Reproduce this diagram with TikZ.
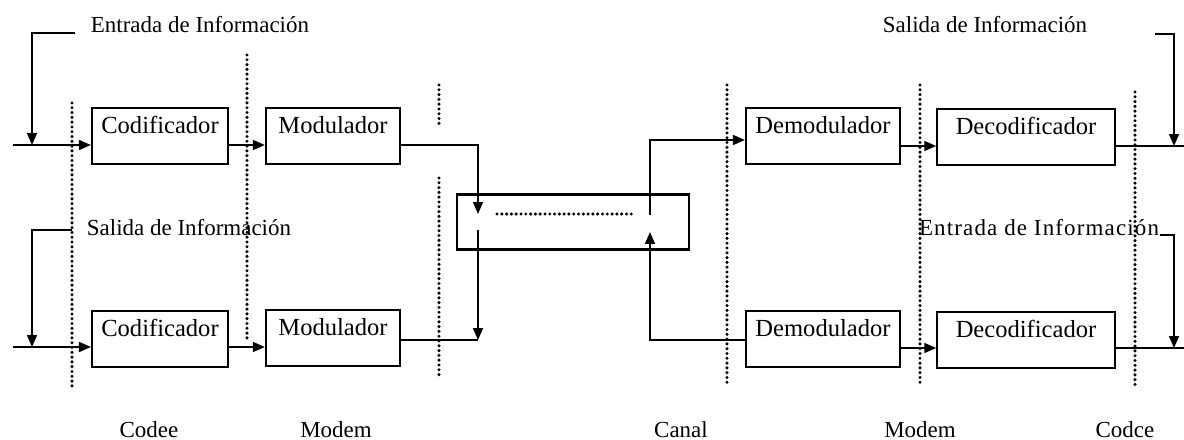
\documentclass[tikz,border=0pt]{standalone}
\usepackage{fontspec}
\setmainfont{Liberation Serif}
\usetikzlibrary{arrows.meta}

\tikzset{
  bloque/.style={draw, line width=1.1pt, inner xsep=2pt, inner ysep=0pt,
    minimum height=0.98cm, text height=12.5pt, text depth=15.5pt,
    font=\fontsize{12.3}{14}\selectfont},
  linea/.style={line width=0.8pt},
  flecha/.style={linea, -{Triangle[length=6pt,width=5pt]}},
  separa/.style={line width=1.7pt, line cap=round, dash pattern=on 0pt off 2.4pt},
  rotulo/.style={font=\fontsize{11.5}{13}\selectfont},
}

\begin{document}
\begin{tikzpicture}[x=0.0176cm, y=-0.0176cm]
\useasboundingbox (0,0) rectangle (1184,440);

% Bloques: fila superior
\node[bloque, minimum width=2.39cm] (cod1) at (160,136) {Codificador};
\node[bloque, minimum width=2.36cm] (mod1) at (333,136) {Modulador};
\node[bloque, minimum width=2.71cm] (dem1) at (823,136) {Demodulador};
\node[bloque, minimum width=3.12cm] (dec1) at (1026,137) {Decodificador};
% Bloques: fila inferior
\node[bloque, minimum width=2.39cm] (cod2) at (160,339) {Codificador};
\node[bloque, minimum width=2.36cm] (mod2) at (333,338) {Modulador};
\node[bloque, minimum width=2.71cm] (dem2) at (823,339) {Demodulador};
\node[bloque, minimum width=3.12cm] (dec2) at (1026,340) {Decodificador};
% Canal
\node[draw, line width=1.1pt, minimum width=4.07cm, minimum height=0.97cm] (canal) at (573,222) {};

% Puntos de paso
\coordinate (in1) at (13,145);
\coordinate (ent1) at (75,33);
\coordinate (codo1) at (32,33);
\coordinate (tx1) at (478,145);
\coordinate (tx1b) at (478,214);
\coordinate (rx1b) at (650,215);
\coordinate (rx1) at (650,140);
\coordinate (out1) at (1184,146);
\coordinate (sal1) at (1155,34);
\coordinate (codo2) at (1174,34);
\coordinate (in2) at (13,347);
\coordinate (sal2) at (72,230);
\coordinate (codo3) at (32,230);
\coordinate (tx2b) at (478,230);
\coordinate (tx2) at (478,340);
\coordinate (rx2) at (650,340);
\coordinate (rx2b) at (650,232);
\coordinate (out2) at (1184,348);
\coordinate (ent2) at (1160,235);
\coordinate (codo4) at (1174,235);
\coordinate (cA) at (497,214);
\coordinate (cB) at (632,214);

% Separadores
\draw[separa] (72,103) -- (72,387);
\draw[separa] (247,55) -- (247,342);
\draw[separa] (439,85) -- (439,127);
\draw[separa] (439,178) -- (439,378);
\draw[separa] (727,85) -- (727,385);
\draw[separa] (920,85) -- (920,385);
\draw[separa] (1135,92) -- (1135,388);
\draw[separa] (cA) -- (cB);

% Fila superior
\draw[flecha] (in1) -- (cod1.west |- in1);
\draw[flecha] (ent1) -- (codo1) -- (codo1 |- in1);
\draw[flecha] (cod1.east |- in1) -- (mod1.west |- in1);
\draw[flecha] (mod1.east |- tx1) -- (tx1) -- (tx1b);
\draw[flecha] (rx1b) -- (rx1) -- (dem1.west |- rx1);
\draw[flecha] (dem1.east |- out1) -- (dec1.west |- out1);
\draw[linea] (dec1.east |- out1) -- (out1);
\draw[flecha] (sal1) -- (codo2) -- (codo2 |- out1);

% Fila inferior
\draw[flecha] (in2) -- (cod2.west |- in2);
\draw[flecha] (sal2) -- (codo3) -- (codo3 |- in2);
\draw[flecha] (cod2.east |- in2) -- (mod2.west |- in2);
\draw[linea] (mod2.east |- tx2) -- (tx2);
\draw[flecha] (tx2b) -- (tx2);
\draw[flecha] (dem2.west |- rx2) -- (rx2) -- (rx2b);
\draw[flecha] (dem2.east |- out2) -- (dec2.west |- out2);
\draw[linea] (dec2.east |- out2) -- (out2);
\draw[flecha] (ent2) -- (codo4) -- (codo4 |- out2);

% Rotulos
\node[rotulo] (tEnt1) at (200,25) {Entrada de Información};
\node[rotulo] (tSal1) at (985,25) {Salida de Información};
\node[rotulo] (tSal2) at (189,228) {Salida de Información};
\node[rotulo] (tEnt2) at (1039,228) {\addfontfeature{LetterSpace=5}Entrada de Información};
\node[rotulo] (lCod1) at (149,430) {Codee};
\node[rotulo] (lMod1) at (336,430) {Modem};
\node[rotulo] (lCanal) at (681,430) {Canal};
\node[rotulo] (lMod2) at (920,430) {Modem};
\node[rotulo] (lCod2) at (1125,430) {Codce};
\end{tikzpicture}
\end{document}
